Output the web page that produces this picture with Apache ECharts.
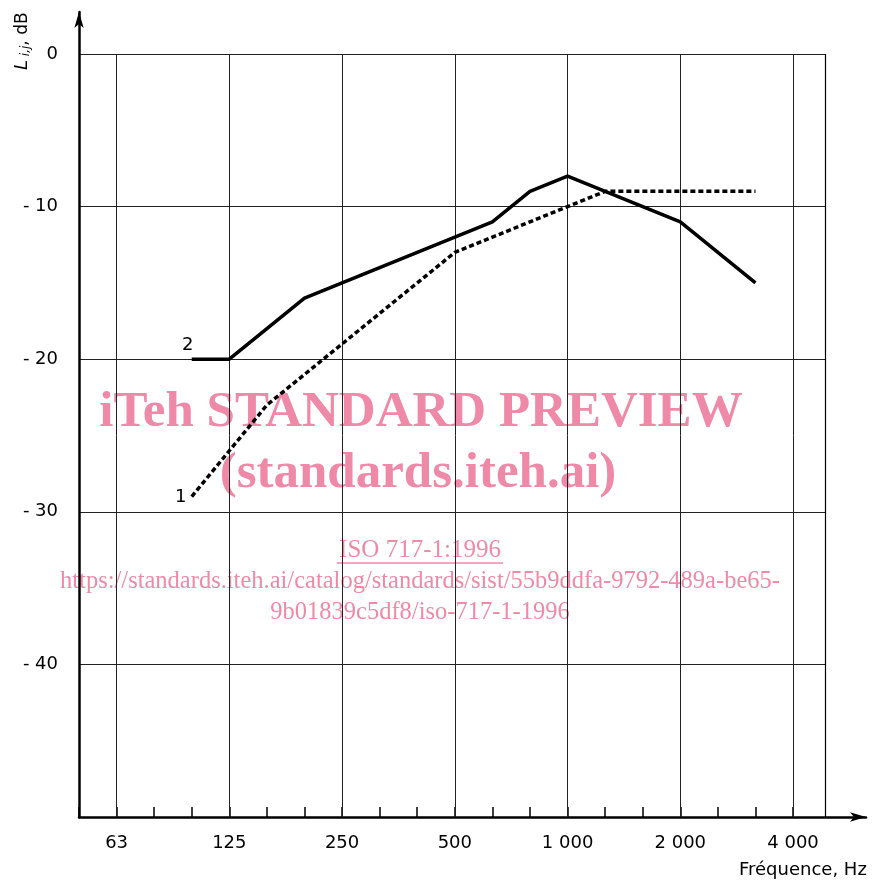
<!DOCTYPE html>
<html><head><meta charset="utf-8">
<script src="https://cdn.jsdelivr.net/npm/echarts@6/dist/echarts.min.js"></script>
<style>html,body{margin:0;padding:0;background:#fff}#c{width:877px;height:887px}</style>
</head><body><div id="c"></div>
<script>
// one-third octave bands, axis starts at 50 Hz (index 0)
const bands = ['50','63','80','100','125','160','200','250','315','400','500','630','800','1000','1250','1600','2000','2500','3150','4000'];
const majorLabels = {'63':'63','125':'125','250':'250','500':'500','1000':'1 000','2000':'2 000','4000':'4 000'};
const curveFreqs = ['100','125','160','200','250','315','400','500','630','800','1000','1250','1600','2000','2500','3150'];
const curve1 = [-29,-26,-23,-21,-19,-17,-15,-13,-12,-11,-10,-9,-9,-9,-9,-9];
const curve2 = [-20,-20,-18,-16,-15,-14,-13,-12,-11,-9,-8,-9,-10,-11,-13,-15];
const yTicks = [0,-10,-20,-30,-40];
const xMax = 19.85;

const idx = f => bands.indexOf(f);
const pts = vals => curveFreqs.map((f,i)=>[idx(f), vals[i]]);
const majorIdx = Object.keys(majorLabels).map(idx);

const chart = echarts.init(document.getElementById('c'));
const font = 'DejaVu Sans';
const pink = '#ee8aa8';
chart.setOption({
  animation:false,
  grid:[
    {left:79, right:52, top:54, bottom:70},
    {left:79, right:11, top:12, bottom:70}
  ],
  xAxis:[
    {gridIndex:0, type:'value', min:0, max:xMax, interval:1,
     axisLine:{show:false, onZero:false},
     axisTick:{show:true, inside:true, length:10, lineStyle:{color:'#000', width:1.5}},
     splitLine:{show:false},
     axisLabel:{margin:17, color:'#000', fontFamily:font, fontSize:18, showMaxLabel:false,
       formatter:v=>{ if(Math.abs(v-Math.round(v))>1e-6) return ''; const f=bands[Math.round(v)]; return majorLabels[f]||''; }}},
    {gridIndex:1, type:'value', min:0, max:1,
     axisLine:{show:true, onZero:false, symbol:['none','arrow'], symbolSize:[7,16], lineStyle:{color:'#000', width:2.5}},
     axisTick:{show:false}, axisLabel:{show:false}, splitLine:{show:false}}
  ],
  yAxis:[
    {gridIndex:0, type:'value', min:-50, max:0, interval:10,
     axisLine:{show:false, onZero:false}, axisTick:{show:false},
     splitLine:{show:true, lineStyle:{color:'#222', width:1}},
     axisLabel:{margin:21, color:'#000', fontFamily:font, fontSize:18,
       formatter:v=> yTicks.includes(v) ? (v<0 ? '- '+(-v) : String(v)) : ''}},
    {gridIndex:1, type:'value', min:0, max:1,
     axisLine:{show:true, onZero:false, symbol:['none','arrow'], symbolSize:[7,16], lineStyle:{color:'#000', width:2.5}},
     axisTick:{show:false}, axisLabel:{show:false}, splitLine:{show:false}}
  ],
  series:[
    {type:'line', xAxisIndex:0, yAxisIndex:0, data:[], silent:true,
     markLine:{symbol:'none', silent:true, label:{show:false},
       lineStyle:{color:'#222', width:1, type:'solid'},
       data: majorIdx.map(i=>({xAxis:i})).concat([{xAxis:xMax, lineStyle:{color:'#000',width:1.2}}])}},
    {type:'line', name:'1', xAxisIndex:0, yAxisIndex:0, data:pts(curve1), showSymbol:false,
     lineStyle:{color:'#000', width:3.5, type:[5,3]}, z:5},
    {type:'line', name:'2', xAxisIndex:0, yAxisIndex:0, data:pts(curve2), showSymbol:false,
     lineStyle:{color:'#000', width:3.5}, z:5}
  ],
  graphic:[
    {type:'text', left:739, top:861, style:{text:'Fréquence, Hz', font:'18px '+font, fill:'#000'}},
    {type:'text', x:13, y:70, rotation:Math.PI/2,
     style:{text:'{l|L}{s| i,j}{n|, dB}', fill:'#000',
       rich:{l:{fontFamily:font, fontSize:18, fontStyle:'italic'},
             s:{fontFamily:font, fontSize:12, fontStyle:'italic', verticalAlign:'bottom', padding:[7,0,0,0]},
             n:{fontFamily:font, fontSize:17}}}},
    {type:'text', left:182, top:336, style:{text:'2', font:'18px '+font, fill:'#000'}},
    {type:'text', left:175, top:488, style:{text:'1', font:'18px '+font, fill:'#000'}},
    {type:'text', x:421, y:413, z:-1, style:{text:'iTeh STANDARD PREVIEW', font:'bold 51px "Liberation Serif"', fill:pink, align:'center', verticalAlign:'middle'}},
    {type:'text', x:418, y:474, z:-1, style:{text:'(standards.iteh.ai)', font:'bold 51px "Liberation Serif"', fill:pink, align:'center', verticalAlign:'middle'}},
    {type:'text', x:420, y:550, z:-1, style:{text:'ISO 717-1:1996', font:'25px "Liberation Serif"', fill:pink, align:'center', verticalAlign:'middle'}},
    {type:'line', z:-1, shape:{x1:337, y1:563, x2:503, y2:563}, style:{stroke:pink, lineWidth:1.3}},
    {type:'text', x:420, y:582, z:-1, style:{text:'https://standards.iteh.ai/catalog/standards/sist/55b9ddfa-9792-489a-be65-', font:'24.5px "Liberation Serif"', fill:pink, align:'center', verticalAlign:'middle'}},
    {type:'text', x:420, y:613, z:-1, style:{text:'9b01839c5df8/iso-717-1-1996', font:'24.5px "Liberation Serif"', fill:pink, align:'center', verticalAlign:'middle'}}
  ]
});
</script></body></html>
